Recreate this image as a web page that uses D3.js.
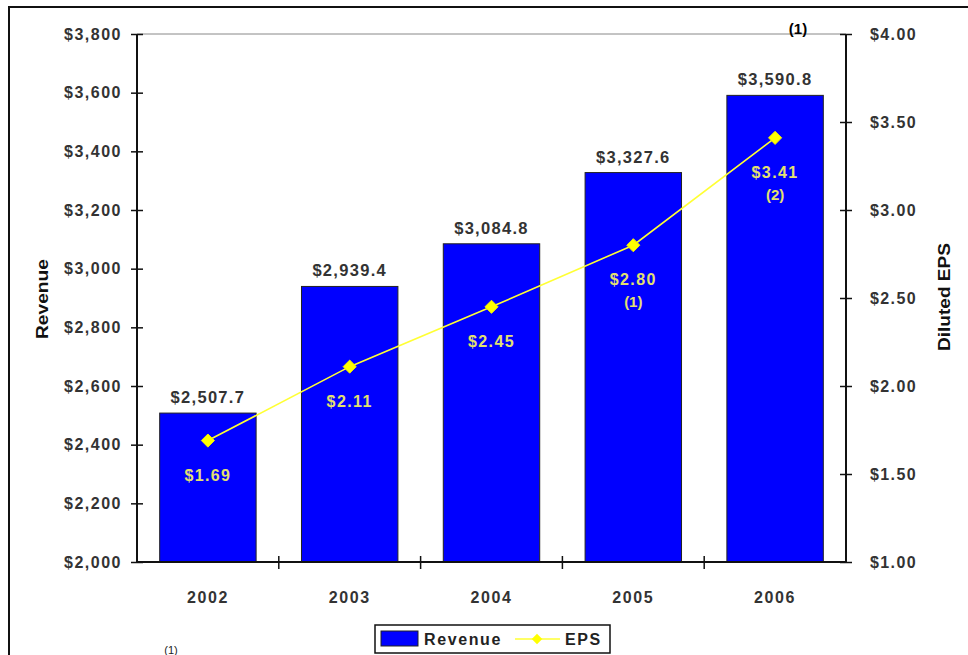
<!DOCTYPE html>
<html><head><meta charset="utf-8">
<script src="https://d3js.org/d3.v7.min.js"></script>
<style>body{margin:0;background:#fff;}svg{display:block;}</style>
</head><body>
<script>
const years = ["2002","2003","2004","2005","2006"];
const revenue = [2507.7, 2939.4, 3084.8, 3327.6, 3590.8];
const eps = [1.69, 2.11, 2.45, 2.80, 3.41];
const epsNotes = ["", "", "", "(1)", "(2)"];
const revTicks = [2000,2200,2400,2600,2800,3000,3200,3400,3600,3800];
const epsTicks = [1.00,1.50,2.00,2.50,3.00,3.50,4.00];

const W=968,H=655;
const svg=d3.select("body").append("svg").attr("width",W).attr("height",H);
const font="'Liberation Sans', Arial, sans-serif";
const m={l:137,r:846,t:34,b:562};

// outer frame
svg.append("rect").attr("x",9).attr("y",7).attr("width",1000).attr("height",700)
  .attr("fill","none").attr("stroke","#111").attr("stroke-width",2);

const x=d3.scaleBand().domain(years).range([m.l,m.r]).paddingInner(0.32).paddingOuter(0.16);
const xb=d3.scaleBand().domain(years).range([m.l,m.r]);
const y=d3.scaleLinear().domain([2000,3800]).range([m.b,m.t]);
const y2=d3.scaleLinear().domain([1,4]).range([m.b,m.t]);

// top plot line
svg.append("line").attr("x1",m.l).attr("x2",m.r).attr("y1",m.t).attr("y2",m.t)
  .attr("stroke","#888").attr("stroke-width",1);

// bars
svg.selectAll("rect.bar").data(years).enter().append("rect").attr("class","bar")
  .attr("x",d=>x(d)).attr("width",x.bandwidth())
  .attr("y",(d,i)=>y(revenue[i])).attr("height",(d,i)=>m.b-y(revenue[i]))
  .attr("fill","#0000ff").attr("stroke","#222").attr("stroke-width",1);

// revenue labels
svg.selectAll("text.rl").data(years).enter().append("text")
  .attr("x",d=>x(d)+x.bandwidth()/2).attr("y",(d,i)=>y(revenue[i])-10)
  .attr("text-anchor","middle").attr("font-family",font).attr("font-weight","bold")
  .attr("font-size","16.5px").attr("letter-spacing","1.3px").attr("fill","#333")
  .text((d,i)=>"$"+d3.format(",.1f")(revenue[i]));

// left axis
const la=svg.append("g").attr("transform",`translate(${m.l},0)`)
  .call(d3.axisLeft(y).tickValues(revTicks).tickSize(6).tickFormat(d=>"$"+d3.format(",")(d)));
la.select(".domain").attr("stroke","#111").attr("stroke-width",2).attr("d",`M0,${m.t}V${m.b}`);
la.selectAll(".tick line").attr("x1",-6).attr("x2",6).attr("stroke","#111").attr("stroke-width",1.5);
la.selectAll(".tick text").attr("x",-15).attr("font-family",font).attr("font-weight","bold")
  .attr("font-size","16px").attr("letter-spacing","1.5px").attr("fill","#333");

// right axis
const ra=svg.append("g").attr("transform",`translate(${m.r},0)`)
  .call(d3.axisRight(y2).tickValues(epsTicks).tickSize(6).tickFormat(d=>"$"+d3.format(".2f")(d)));
ra.select(".domain").attr("stroke","#111").attr("stroke-width",2).attr("d",`M0,${m.t}V${m.b}`);
ra.selectAll(".tick line").attr("x1",-6).attr("x2",6).attr("stroke","#111").attr("stroke-width",1.5);
ra.selectAll(".tick text").attr("x",24).attr("font-family",font).attr("font-weight","bold")
  .attr("font-size","16px").attr("letter-spacing","1.4px").attr("fill","#333");

// bottom axis
svg.append("line").attr("x1",m.l).attr("x2",m.r).attr("y1",m.b).attr("y2",m.b)
  .attr("stroke","#111").attr("stroke-width",2);
const ba=svg.append("g").attr("transform",`translate(0,${m.b})`)
  .call(d3.axisBottom(xb).tickSize(0));
ba.select(".domain").remove();
ba.selectAll(".tick text").attr("y",30).attr("font-family",font).attr("font-weight","bold")
  .attr("font-size","16px").attr("letter-spacing","1.6px").attr("fill","#333");
svg.selectAll("line.ct").data(years.slice(1)).enter().append("line")
  .attr("x1",d=>xb(d)).attr("x2",d=>xb(d)).attr("y1",m.b-6).attr("y2",m.b+7)
  .attr("stroke","#111").attr("stroke-width",1.5);

// EPS line
const cx=d=>xb(d)+xb.bandwidth()/2;
svg.append("path").datum(years)
  .attr("d",d3.line().x(d=>cx(d)).y((d,i)=>y2(eps[i])))
  .attr("fill","none").attr("stroke","#ffff33").attr("stroke-width",1.6);
svg.selectAll("path.mk").data(years).enter().append("path")
  .attr("transform",(d,i)=>`translate(${cx(d)},${y2(eps[i])})`)
  .attr("d",d3.symbol().type(d3.symbolDiamond2).size(110))
  .attr("fill","#ffff00").attr("stroke","#eeee00");

// EPS labels
svg.selectAll("text.el").data(years).enter().append("text")
  .attr("x",d=>cx(d)).attr("y",(d,i)=>y2(eps[i])+40)
  .attr("text-anchor","middle").attr("font-family",font).attr("font-weight","bold")
  .attr("font-size","16px").attr("letter-spacing","1.4px").attr("fill","#e3e070")
  .text((d,i)=>"$"+d3.format(".2f")(eps[i]));
svg.selectAll("text.en").data(years).enter().append("text")
  .attr("x",d=>cx(d)).attr("y",(d,i)=>y2(eps[i])+62)
  .attr("text-anchor","middle").attr("font-family",font).attr("font-weight","bold")
  .attr("font-size","15px").attr("fill","#e3e070")
  .text((d,i)=>epsNotes[i]);

// axis titles
svg.append("text").attr("transform","translate(48,299) rotate(-90)")
  .attr("text-anchor","middle").attr("font-family",font).attr("font-weight","bold")
  .attr("font-size","17px").attr("textLength",80).attr("lengthAdjust","spacingAndGlyphs")
  .attr("fill","#111").text("Revenue");
svg.append("text").attr("transform","translate(950,297) rotate(-90)")
  .attr("text-anchor","middle").attr("font-family",font).attr("font-weight","bold")
  .attr("font-size","17px").attr("textLength",108).attr("lengthAdjust","spacingAndGlyphs")
  .attr("fill","#111").text("Diluted EPS");

// footnote markers
svg.append("text").attr("x",798).attr("y",34).attr("text-anchor","middle")
  .attr("font-family",font).attr("font-weight","bold").attr("font-size","15px")
  .attr("fill","#000").text("(1)");
svg.append("text").attr("x",171).attr("y",654).attr("text-anchor","middle")
  .attr("font-family",font).attr("font-size","11px").attr("fill","#222").text("(1)");

// legend
const lg=svg.append("g");
lg.append("rect").attr("x",375).attr("y",625).attr("width",235).attr("height",28)
  .attr("fill","#fff").attr("stroke","#111").attr("stroke-width",1.5);
lg.append("rect").attr("x",381).attr("y",631).attr("width",37).attr("height",15)
  .attr("fill","#0000ff").attr("stroke","#222");
lg.append("text").attr("x",424).attr("y",645).attr("font-family",font).attr("font-weight","bold")
  .attr("font-size","16px").attr("letter-spacing","1.6px").attr("fill","#222").text("Revenue");
lg.append("line").attr("x1",515).attr("x2",560).attr("y1",639).attr("y2",639)
  .attr("stroke","#ffff33").attr("stroke-width",1.6);
lg.append("path").attr("transform","translate(537,639)")
  .attr("d",d3.symbol().type(d3.symbolDiamond2).size(70)).attr("fill","#ffff00");
lg.append("text").attr("x",565).attr("y",645).attr("font-family",font).attr("font-weight","bold")
  .attr("font-size","16px").attr("letter-spacing","1.6px").attr("fill","#222").text("EPS");
</script>
</body></html>
